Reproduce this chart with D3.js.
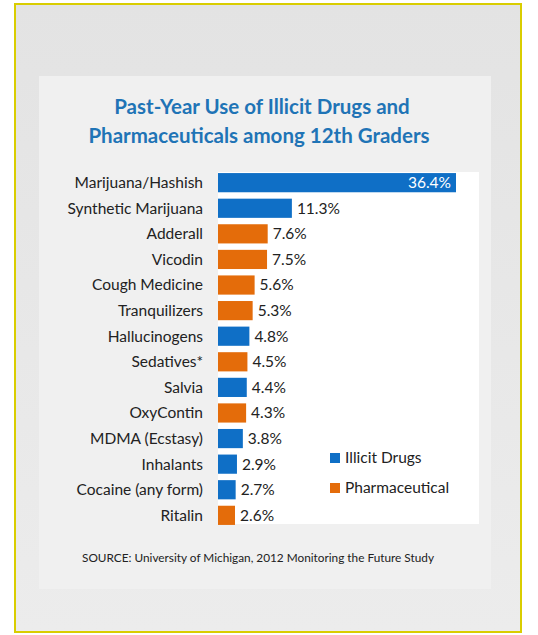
<!DOCTYPE html>
<html>
<head>
<meta charset="utf-8">
<script src="https://cdn.jsdelivr.net/npm/d3@7"></script>
<style>
  body { margin: 0; background: #fff; }
  svg { display: block; font-family: Lato, "Open Sans", sans-serif; }
</style>
</head>
<body>
<div id="chart"></div>
<script>
const categories = ['Marijuana/Hashish', 'Synthetic Marijuana', 'Adderall', 'Vicodin', 'Cough Medicine',
  'Tranquilizers', 'Hallucinogens', 'Sedatives*', 'Salvia', 'OxyContin', 'MDMA (Ecstasy)',
  'Inhalants', 'Cocaine (any form)', 'Ritalin'];
const values = [36.4, 11.3, 7.6, 7.5, 5.6, 5.3, 4.8, 4.5, 4.4, 4.3, 3.8, 2.9, 2.7, 2.6];
const types = ['Illicit Drugs', 'Illicit Drugs', 'Pharmaceutical', 'Pharmaceutical', 'Pharmaceutical',
  'Pharmaceutical', 'Illicit Drugs', 'Pharmaceutical', 'Illicit Drugs', 'Pharmaceutical',
  'Illicit Drugs', 'Illicit Drugs', 'Illicit Drugs', 'Pharmaceutical'];
const legendItems = ['Illicit Drugs', 'Pharmaceutical'];

const width = 538, height = 635;
const svg = d3.select('#chart').append('svg')
  .attr('width', width)
  .attr('height', height);

const defs = svg.append('defs');
const grad = defs.append('linearGradient').attr('id', 'bg').attr('x1', 0).attr('y1', 0).attr('x2', 0).attr('y2', 1);
grad.append('stop').attr('offset', '0%').attr('stop-color', '#e3e3e3');
grad.append('stop').attr('offset', '100%').attr('stop-color', '#ececec');

// frame
svg.append('rect')
  .attr('x', 15).attr('y', 4).attr('width', 506).attr('height', 628)
  .attr('fill', 'url(#bg)')
  .attr('stroke', '#d9cd00')
  .attr('stroke-width', 2);

// panel
svg.append('rect')
  .attr('x', 39).attr('y', 76).attr('width', 452).attr('height', 513)
  .attr('fill', '#f0f0f0');

// title
const title = svg.append('text')
  .attr('text-anchor', 'middle')
  .attr('fill', '#1f74b6')
  .attr('font-weight', 'bold')
  .attr('font-size', 20.5);
title.append('tspan').attr('x', 262).attr('y', 114).text('Past-Year Use of Illicit Drugs and');
title.append('tspan').attr('x', 259).attr('y', 143).text('Pharmaceuticals among 12th Graders');

const color = d3.scaleOrdinal()
  .domain(legendItems)
  .range(['#0f6fc6', '#e46c0a']);

const x = d3.scaleLinear()
  .domain([0, 36.4])
  .range([218, 456]);

const y = d3.scaleBand()
  .domain(categories)
  .range([170, 528])
  .paddingInner(0.25)
  .paddingOuter(0.12);

// plot area
svg.append('rect')
  .attr('x', 218).attr('y', 172).attr('width', 261).attr('height', 352)
  .attr('fill', '#ffffff');

const rows = svg.append('g').selectAll('g')
  .data(categories)
  .enter().append('g');

rows.append('rect')
  .attr('x', x(0))
  .attr('y', d => y(d))
  .attr('width', (d, i) => x(values[i]) - x(0))
  .attr('height', y.bandwidth())
  .attr('fill', (d, i) => color(types[i]));

rows.append('text')
  .attr('x', 203)
  .attr('y', d => y(d) + y.bandwidth() / 2)
  .attr('dy', '0.35em')
  .attr('text-anchor', 'end')
  .attr('font-size', 15.5)
  .attr('fill', '#222')
  .text(d => d);

rows.append('text')
  .attr('x', (d, i) => i === 0 ? x(values[i]) - 5 : x(values[i]) + 5)
  .attr('y', d => y(d) + y.bandwidth() / 2)
  .attr('dy', '0.35em')
  .attr('text-anchor', (d, i) => i === 0 ? 'end' : 'start')
  .attr('font-size', 15.5)
  .attr('fill', (d, i) => i === 0 ? '#fff' : '#222')
  .text((d, i) => values[i].toFixed(1) + '%');

// legend
const legend = svg.append('g').selectAll('g')
  .data(legendItems)
  .enter().append('g')
  .attr('transform', (d, i) => `translate(330, ${458 + i * 30})`);
legend.append('rect')
  .attr('x', 0).attr('y', -5)
  .attr('width', 10).attr('height', 10)
  .attr('fill', d => color(d));
legend.append('text')
  .attr('x', 15).attr('dy', '0.35em')
  .attr('font-size', 15.5)
  .attr('fill', '#222')
  .text(d => d);

svg.append('text')
  .attr('x', 258).attr('y', 562)
  .attr('text-anchor', 'middle')
  .attr('font-size', 11.8)
  .attr('fill', '#222')
  .text('SOURCE: University of Michigan, 2012 Monitoring the Future Study');
</script>
</body>
</html>
